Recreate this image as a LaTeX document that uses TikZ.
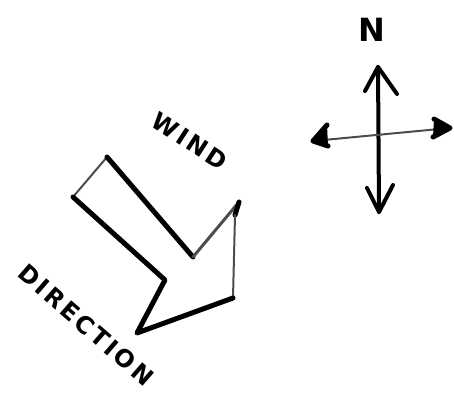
\documentclass[tikz,border=0pt]{standalone}
\usepackage{fontspec}
\setmainfont{DejaVu Sans}
\usetikzlibrary{arrows.meta}
\begin{document}
\begin{tikzpicture}[x=1pt,y=-1pt,
  marker/.style={line width=5pt,line cap=round,line join=round,black},
  thin marker/.style={line width=4pt,line cap=round,line join=round,black},
  faint/.style={line width=2pt,line cap=round,black!70},
  hand/.style={font=\bfseries\fontsize{24}{24}\selectfont\addfontfeature{LetterSpace=12},inner sep=0pt}]
\useasboundingbox (0,0) rectangle (454,401);
% big wind arrow
\coordinate (tl) at (73,197);
\coordinate (tt) at (107,157);
\coordinate (ri) at (193,257);
\coordinate (hr) at (239,202);
\coordinate (hb) at (233,298);
\coordinate (tip) at (137,333);
\coordinate (li) at (165,280);
\draw[faint] (tl) -- (tt);
\draw[marker] (tt) -- (ri);
\draw[faint,line width=3pt] (ri) -- (hr);
\draw[marker] (hr) -- (235,215);
\draw[faint] (235,215) -- (hb);
\draw[marker] (hb) -- (tip) -- (li) -- (tl);
% labels
\node[hand,rotate=-33] (wind) at (190,141) {WIND};
\node[hand,rotate=-41] (dir) at (86,325) {DIRECTION};
% compass
\node[hand,font=\bfseries\fontsize{32}{32}\selectfont] (n) at (372,30) {N};
\coordinate (nt) at (378,67);
\coordinate (st) at (379,212);
\coordinate (wt) at (313,141);
\coordinate (et) at (450,128);
\draw[thin marker] (nt) -- (st);
\draw[thin marker] (365,91) -- (nt) -- (397,94);
\draw[thin marker] (367,188) -- (st) -- (393,185);
\draw[faint] (wt) -- (et);
\draw[marker,fill=black] (327,125) -- (wt) -- (328,146);
\draw[marker,fill=black] (434,119) -- (et) -- (433,137);
\end{tikzpicture}
\end{document}
